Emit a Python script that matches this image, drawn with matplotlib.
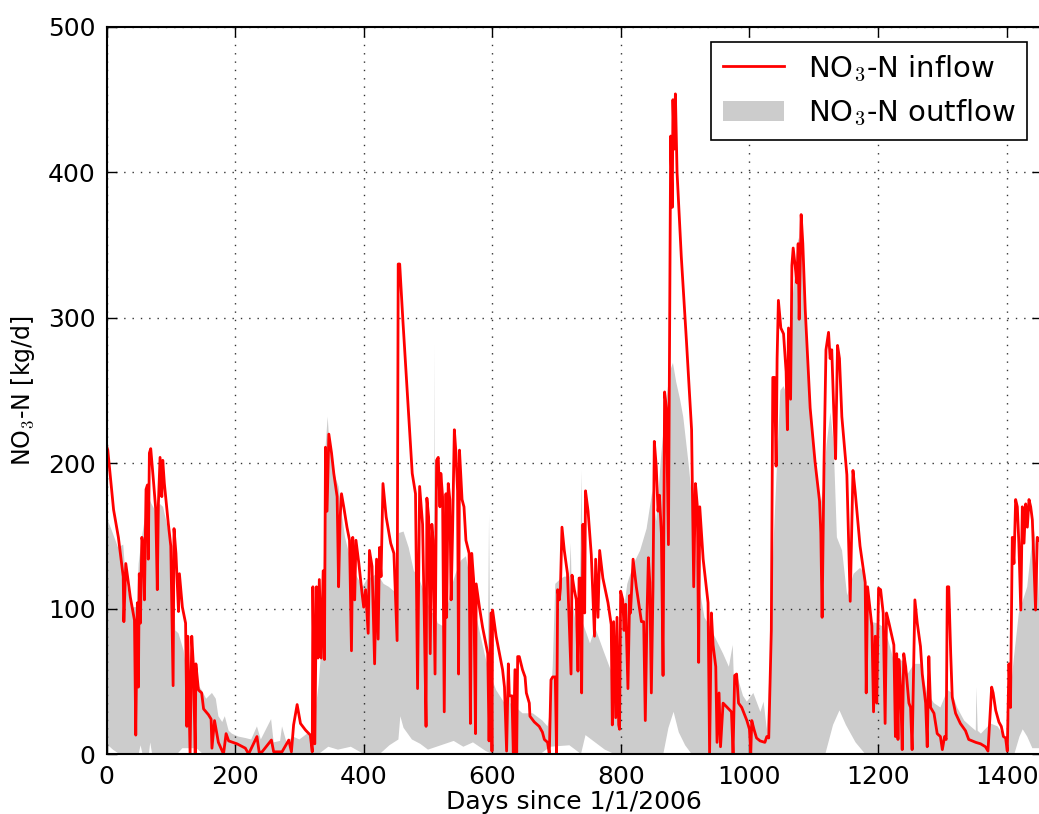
import matplotlib
matplotlib.use("Agg")
import matplotlib.pyplot as plt
from matplotlib.lines import Line2D
from matplotlib.patches import Patch

# (day, kg/d)
inflow_pts = [
    (0, 212), (2, 209), (11, 168), (18.5, 149), (26, 122), (27, 91), (30, 131), (37, 108),
    (43.5, 92), (45.5, 13), (48, 104), (49.6, 46), (51, 124), (52.7, 90), (55, 149),
    (57.4, 143), (59, 106), (61.5, 182), (63.6, 185), (65, 134), (66.7, 207), (68.8, 210),
    (73, 188), (76.6, 168), (79, 113), (80.7, 172), (83.3, 204), (86, 177), (87.5, 202),
    (90, 186), (96, 159), (100, 143), (103.6, 47), (105, 155), (108, 138), (112, 98),
    (113.4, 124), (118, 101), (123, 90), (125, 19), (126.4, 81), (130, 0), (132.6, 81),
    (135, 62), (138, 0), (139, 62), (143, 44), (148, 42), (151, 31), (158.6, 27),
    (162.7, 24), (164, 4), (168, 23), (174, 8), (178, 4), (182, 0), (186, 14), (190, 9),
    (203, 7), (216, 4), (221, 0), (234, 12), (237.5, 1), (242, 1.5), (256.5, 9.6),
    (260, 1.5), (273, 1.5), (283.5, 9.6), (287.6, 1.5), (291, 20), (296.5, 34),
    (301.7, 21), (309.4, 16.5), (317, 13), (320, 1.5), (321, 115), (324, 7), (326.6, 115),
    (329, 66), (331, 120), (334, 66), (337, 126), (339, 65), (340.6, 211), (343, 167),
    (345.8, 220), (350, 207), (353.5, 193), (358.7, 177), (361, 115), (363.4, 163),
    (365.5, 179), (369, 170), (374, 156), (378, 147), (381, 71), (383, 149), (386, 106),
    (388, 147), (392.5, 131), (397.6, 110), (400, 101), (403, 113), (407, 83), (409, 140),
    (413, 129), (417, 62), (420, 134), (422.5, 79), (424.6, 142), (427, 122), (430, 186),
    (435, 163), (442, 145), (447, 138), (452, 78), (453.7, 337), (456, 337), (461, 298),
    (467.7, 250), (475.5, 193), (480.6, 179), (483.8, 45), (487, 184), (491.6, 158),
    (494, 101), (497, 19), (498.3, 176), (501, 163), (503.5, 69), (506, 158), (508, 147),
    (511, 55), (513.4, 202), (516, 204), (518.6, 170), (520, 193), (522.7, 177),
    (525.3, 29), (528, 179), (529, 94), (531.5, 186), (534, 175), (536, 106), (538.3, 154),
    (541, 223), (543.5, 207), (546, 181), (547.6, 55), (549, 209), (553, 175), (556, 170),
    (559, 147), (564, 138), (566, 21), (568, 138), (571, 120), (574, 14), (575, 117),
    (580, 101), (585, 87), (593, 69), (595, 9), (598, 97), (599.5, 2), (600.5, 99),
    (606, 81), (616, 58), (619, 46), (622.3, 2), (625, 62), (626.5, 40), (630.6, 40),
    (632.7, 1), (635.3, 58), (638, 1), (639.5, 67), (642, 67), (647, 58), (651, 53),
    (653, 42), (657.6, 35), (658.6, 26), (665.4, 22), (673, 19), (678, 15), (681, 10),
    (686, 8), (688.7, 0), (691.3, 51), (694, 53), (698, 53), (700, 0), (701.7, 113),
    (704.3, 106), (706, 114), (708.4, 156), (712, 140), (717, 124), (722.5, 55), (724, 123),
    (727.6, 113), (730.7, 106), (733.3, 57), (735, 121), (737, 121), (739, 42), (741, 158),
    (743.7, 97), (745, 181), (749, 167), (754, 137), (759, 81), (760.8, 134), (764.4, 94),
    (767, 140), (772, 121), (780, 104), (785, 89), (786.7, 20), (788.8, 91), (792, 25),
    (794, 94), (796.6, 20), (798, 17), (799.7, 112), (803, 106), (805, 85), (807.5, 103),
    (811, 45), (813.7, 109), (815, 97), (819, 134), (824, 115), (832, 91), (835.5, 91),
    (838, 23), (840.7, 97), (842.8, 135), (845, 118), (847.4, 42), (850, 115), (852, 215),
    (855, 198), (857.8, 167), (860, 178), (863, 152), (865.6, 54), (868, 249), (870.8, 238),
    (874, 144), (876, 302), (877.5, 425), (880, 376), (881, 450), (883, 416), (884.8, 454),
    (887.4, 400), (894, 342), (902, 284), (910, 223), (913.3, 115), (916, 186), (919, 170),
    (921, 63), (922.7, 170), (928, 134), (935.6, 104), (938, 0), (940.8, 97), (943.4, 75),
    (947.6, 60), (949.6, 8), (952.7, 42), (955, 5), (959, 35), (972, 29), (974.5, 0),
    (977, 54), (980, 55), (983, 35), (988, 32), (996, 23), (1000, 17), (1002, 0),
    (1003.6, 23), (1007, 17), (1011, 11), (1016.6, 9), (1024, 8), (1027, 12), (1030, 11),
    (1031, 29), (1034, 85), (1036.3, 259), (1039, 259), (1041.5, 198), (1043, 272),
    (1045, 312), (1048.8, 293), (1053, 289), (1057, 263), (1059, 223), (1060.7, 293),
    (1064, 244), (1066, 336), (1068, 348), (1071, 336), (1073.7, 324), (1075.8, 351),
    (1077.3, 299), (1080.4, 371), (1083, 351), (1086.7, 306), (1094.4, 238), (1102, 201),
    (1109, 174), (1111, 152), (1113, 94), (1116, 201), (1119, 278), (1123, 290),
    (1125.5, 272), (1128, 278), (1131, 238), (1134, 203), (1135, 232), (1137, 281),
    (1140, 272), (1143.7, 232), (1151.5, 192), (1156.7, 105), (1161, 195), (1164.5, 180),
    (1172, 143), (1180, 118), (1181.6, 42), (1183.7, 115), (1190.4, 88), (1193, 29),
    (1195.6, 81), (1198, 35), (1200.8, 114), (1204, 113), (1208, 97), (1211, 21),
    (1213.2, 97), (1217, 90), (1224.6, 75), (1227, 12), (1229, 69), (1231, 10),
    (1232.4, 65), (1235, 46), (1237.6, 3), (1240, 69), (1243, 60), (1248, 35),
    (1250.6, 32), (1253, 3), (1257.3, 106), (1261, 90), (1266, 74), (1268.8, 55),
    (1274, 35), (1276.5, 5), (1279, 67), (1281.7, 32), (1287, 28), (1292, 14), (1297, 12),
    (1300, 3), (1303.5, 12), (1306, 10), (1307.7, 115), (1310, 115), (1313, 69),
    (1315.4, 39), (1320.6, 28), (1328, 21), (1336, 16), (1341, 10), (1352, 8),
    (1359.5, 7), (1367, 5), (1371, 2), (1376.7, 46), (1379, 42), (1383, 30), (1388, 22),
    (1391.7, 19), (1395, 12), (1398.4, 11), (1401, 2), (1403.6, 62), (1406, 32),
    (1408.8, 149), (1411.4, 131), (1414, 175), (1416.6, 170), (1419, 145), (1422, 99),
    (1424.4, 170), (1427, 145), (1429.6, 172), (1432.2, 156), (1434.8, 175),
    (1437.4, 170), (1440, 161), (1445, 99), (1447.7, 149), (1451, 147),
]

# upper edge of the grey outflow band
outflow_top = [
    (0, 163), (8, 154), (18, 142), (26, 144), (30, 120), (39, 101), (47, 101), (50, 131),
    (55, 149), (60, 163), (65, 177), (70, 172), (75, 168), (83, 172), (88, 170), (96, 154),
    (101, 140), (105, 110), (107, 85), (112, 83), (120, 71), (125, 55), (132, 60),
    (140, 49), (148, 44), (155, 38), (164, 42), (170, 38), (174, 26), (180, 22), (184, 26),
    (190, 16), (195, 14), (205, 12), (216, 11), (225, 10), (234, 19), (240, 10), (256, 24),
    (260, 8), (270, 9), (273, 19), (280, 8), (290, 12), (300, 10), (312, 14), (320, 12),
    (325, 30), (330, 48), (335, 78), (339, 150), (341, 213), (344, 232), (347, 211),
    (352, 200), (356, 190), (361, 184), (366, 165), (371, 149), (380, 133), (387, 124),
    (398, 115), (405, 120), (413, 122), (421, 124), (431, 117), (439, 115), (447, 112),
    (455, 152), (462, 153), (470, 142), (478, 126), (486, 121), (495, 110), (505, 97),
    (509, 97), (510, 281), (511, 97), (515, 90), (523, 88), (530, 101), (538, 117),
    (543, 124), (551, 133), (559, 136), (564, 124), (572, 101), (580, 85), (588, 69),
    (593, 60), (595, 165), (597, 55), (600, 51), (606, 44), (619, 35), (625, 40),
    (626.5, 55), (628, 35), (637, 32), (647, 28), (663, 28), (678, 23), (686, 19),
    (690, 30), (694, 60), (698, 117), (705, 120), (712, 122), (720, 122), (722, 145),
    (724, 106), (730, 90), (735, 83), (739, 195), (741, 90), (752, 76), (760, 87),
    (773, 71), (784, 58), (794, 48), (802, 90), (810, 117), (820, 131), (830, 140),
    (840, 155), (849, 181), (855, 160), (863, 207), (871, 244), (876, 263), (881, 269),
    (886, 256), (892, 244), (897, 232), (905, 201), (912, 170), (918, 134), (923, 112),
    (930, 94), (938, 88), (949, 78), (959, 69), (968, 60), (974, 75), (976, 48), (980, 55),
    (990, 40), (996, 36), (1006, 42), (1017, 29), (1022, 36), (1027, 17), (1032, 63),
    (1037, 140), (1043, 201), (1048, 250), (1053, 253), (1058, 247), (1063, 287),
    (1068, 318), (1076, 355), (1082, 345), (1087, 293), (1094, 238), (1102, 201),
    (1110, 170), (1115, 183), (1120, 213), (1126, 235), (1131, 213), (1136, 149),
    (1144, 140), (1152, 109), (1162, 124), (1172, 128), (1180, 124), (1188, 91),
    (1198, 90), (1206, 88), (1216, 78), (1224, 65), (1240, 64), (1246, 55), (1256, 62),
    (1266, 62), (1276, 42), (1287, 35), (1297, 32), (1308, 44), (1315, 42), (1323, 32),
    (1334, 23), (1344, 19), (1352, 16), (1353, 46), (1355, 16), (1360, 14), (1375, 21),
    (1386, 19), (1396, 12), (1401, 3), (1406, 42), (1411, 65), (1419, 97), (1432, 115),
    (1442, 156), (1447, 140), (1451, 100),
]

# lower edge of the grey band (white gaps near the x axis)
outflow_bottom = [
    (0, 7), (10, 3), (20, 0), (50, 0), (53, 6), (56, 0), (66, 0), (68, 8), (71, 0),
    (110, 0), (118, 4), (140, 4), (150, 0), (330, 0), (345, 5), (360, 3), (380, 5),
    (400, 0), (425, 0), (440, 6), (454, 10), (457, 26), (462, 18), (475, 10), (488, 7),
    (500, 3), (520, 6), (540, 9), (555, 5), (570, 8), (590, 2), (600, 0), (675, 0),
    (690, 5), (720, 6), (738, 0), (745, 13), (760, 8), (775, 3), (790, 0), (866, 0),
    (874, 18), (882, 29), (890, 15), (900, 6), (910, 0), (1118, 0), (1130, 20),
    (1140, 30), (1150, 20), (1165, 8), (1180, 0), (1412, 0), (1420, 12), (1425, 17),
    (1432, 12), (1440, 4), (1451, 4),
]

x_ticks = [0, 200, 400, 600, 800, 1000, 1200, 1400]
y_ticks = [0, 100, 200, 300, 400, 500]

plt.rcParams["font.family"] = ["DejaVu Sans"]
plt.rcParams["mathtext.fontset"] = "cm"

fig = plt.figure(figsize=(10.39, 8.14), dpi=100)
ax = fig.add_axes([106.5 / 1039, 1 - 754 / 814, (1042 - 106.5) / 1039, (754 - 27) / 814])

in_days, in_vals = zip(*inflow_pts)
top_days, top_vals = zip(*outflow_top)
bot_days, bot_vals = zip(*outflow_bottom)

ax.fill(list(top_days) + list(bot_days)[::-1], list(top_vals) + list(bot_vals)[::-1],
        color="#cccccc", lw=0, zorder=1)
ax.plot(in_days, in_vals, color="red", lw=2, zorder=3)

ax.set_xlim(0, 1455)
ax.set_ylim(0, 500)
ax.set_xticks(x_ticks)
ax.set_yticks(y_ticks)
ax.grid(True, linestyle=(0, (1, 5)), color="k", lw=1.0, alpha=0.8, zorder=2)
ax.tick_params(direction="in", length=7, width=1, labelsize=18, pad=8,
               top=True, right=True)
for spine in ax.spines.values():
    spine.set_linewidth(1.5)
    spine.set_zorder(4)

ax.set_xlabel("Days since 1/1/2006", fontsize=18, labelpad=1)
ax.set_ylabel("NO$_3$-N [kg/d]", fontsize=17, labelpad=8)

handles = [Line2D([], [], color="red", lw=2), Patch(facecolor="#cccccc", edgecolor="none")]
leg = ax.legend(handles, ["NO$_3$-N inflow", "NO$_3$-N outflow"], loc="upper right",
                fontsize=21, fancybox=False, framealpha=1, edgecolor="k",
                borderaxespad=0.5, handlelength=2.1)
leg.get_frame().set_linewidth(1.2)
leg.set_zorder(5)

fig.savefig("out.png", dpi=100)
